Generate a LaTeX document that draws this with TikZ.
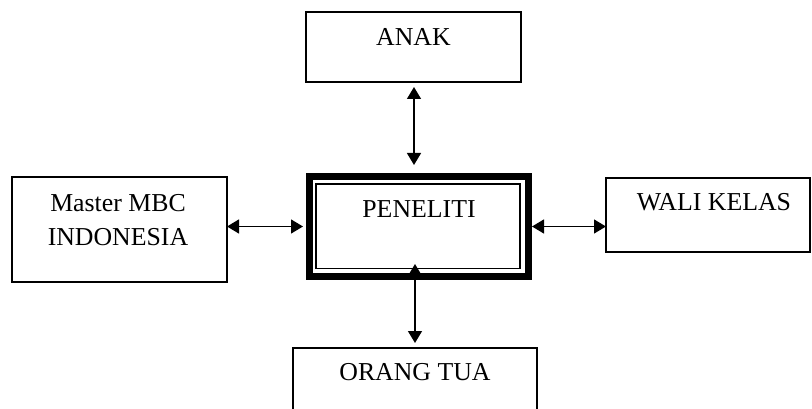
\documentclass[tikz,border=0pt]{standalone}
\usepackage{fontspec}
\setmainfont{Liberation Serif}
\usetikzlibrary{arrows.meta,calc}
\begin{document}
\begin{tikzpicture}[x=1pt,y=-1pt,
  box/.style={draw=black,line width=1.2pt,inner sep=0pt,outer sep=0pt},
  lbl/.style={anchor=base,inner sep=0pt,font=\fontsize{25.8}{34.5}\selectfont,align=center},
  tip/.style={Triangle[length=12pt,width=14pt]},
  arr/.style={line width=1.3pt,{Triangle[length=12pt,width=14pt]}-{Triangle[length=12pt,width=14pt]}}]
\useasboundingbox (0,0) rectangle (812,409);
\clip (0,0) rectangle (812,409);
% boxes
\node[box,minimum width=215pt,minimum height=70pt] (anak) at (413.5,47) {};
\node[box,minimum width=215pt,minimum height=105pt] (master) at (119.5,229.5) {};
\node[box,minimum width=204pt,minimum height=74pt] (wali) at (708,215) {};
\node[box,minimum width=244pt,minimum height=100pt] (orang) at (415,398) {};
% PENELITI double frame
\node[draw=black,line width=7.3pt,inner sep=0pt,outer sep=3.65pt,minimum width=218.7pt,minimum height=99.7pt] (pen) at (419,226.5) {};
\node[draw=black,line width=1.5pt,inner sep=0pt,minimum width=204pt,minimum height=84.3pt] (peninner) at (417.8,226.35) {};
% labels
\node[lbl] (tanak) at (413.5,46) {ANAK};
\node[lbl] (tpen) at (419,217.7) {PENELITI};
\node[lbl] (tmaster) at (118,246) {Master MBC\\INDONESIA};
\node[lbl] (twali) at (714,210.7) {WALI KELAS};
\node[lbl] (torang) at (415,380) {ORANG TUA};
% connectors
\draw[arr,shorten <=5pt,shorten >=8pt] ([xshift=0.5pt]anak.south) -- ([xshift=0.5pt]anak.south |- pen.north);
\draw[arr,shorten <=-16pt,shorten >=5pt] (orang.north |- pen.south) -- (orang.north);
\draw[arr,shorten >=3pt] (master.east |- pen.west) -- (pen.west);
\draw[arr] (pen.east) -- (wali.west |- pen.east);
\end{tikzpicture}
\end{document}
